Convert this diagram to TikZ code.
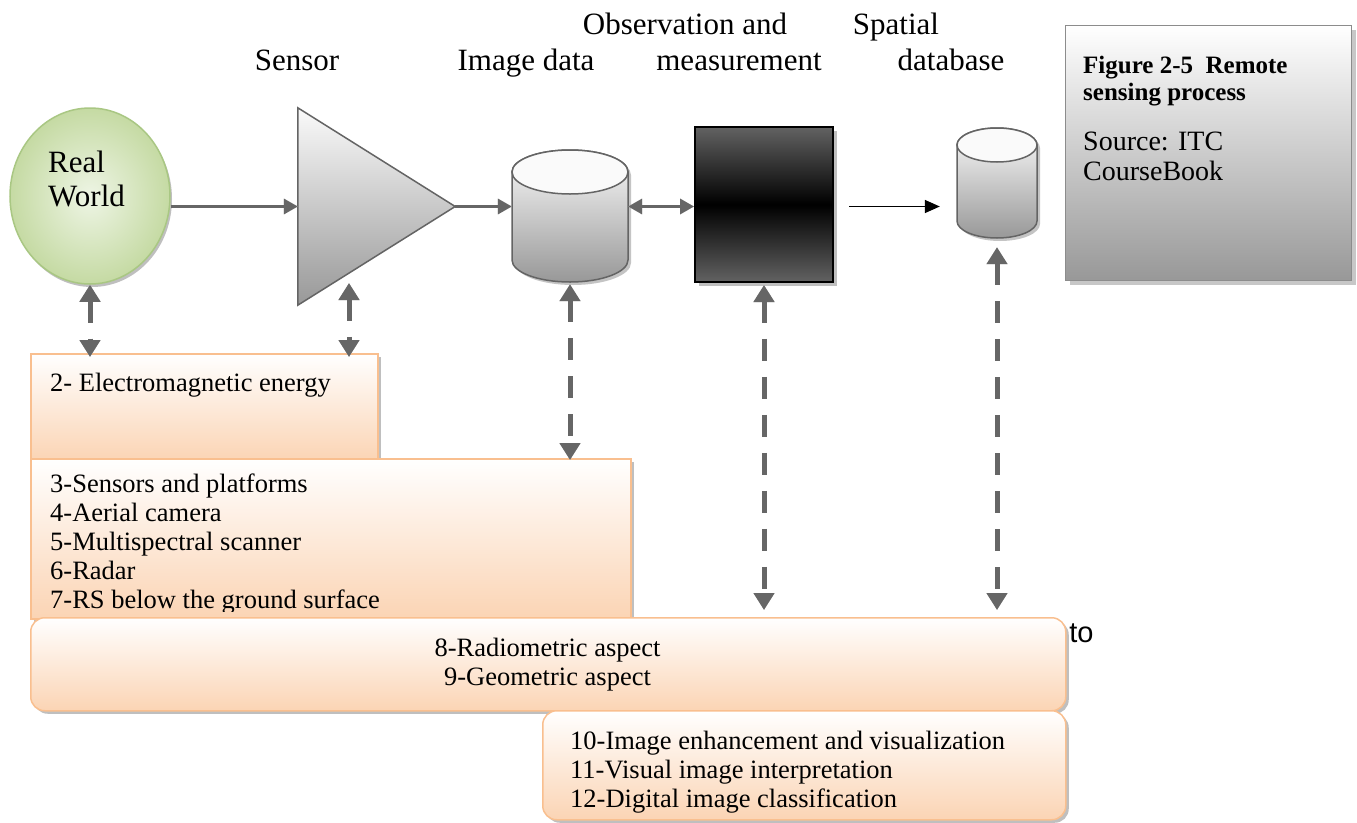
\documentclass[tikz,border=0pt]{standalone}
\usepackage{fontspec}
\setmainfont{Liberation Serif}
\newfontfamily\sansfam{Liberation Sans}
\usetikzlibrary{arrows.meta,shapes.geometric,shadows}

\definecolor{peach}{HTML}{FBD4B4}
\definecolor{peachline}{HTML}{F9BF8F}
\definecolor{arrgray}{HTML}{666666}
\definecolor{shgray}{HTML}{C4C4C4}
\definecolor{edgegray}{HTML}{646464}
\definecolor{cyltop}{HTML}{FAFAFA}
\definecolor{cylbot}{HTML}{989898}
\definecolor{greenin}{HTML}{EEF5E5}
\definecolor{greenout}{HTML}{C5DAA3}
\definecolor{greenline}{HTML}{A9C783}
\definecolor{obsgray}{HTML}{626262}
\definecolor{figbot}{HTML}{989898}
\definecolor{figline}{HTML}{8C8C8C}

\newcommand{\drawcyl}[5]{%
  \fill[shgray,xshift=3pt,yshift=-3pt] ({#1},{#2+#5}) -- ({#1},{#4-#5}) arc[start angle=180,end angle=0,x radius={(#3-#1)/2},y radius={#5}] -- ({#3},{#2+#5}) arc[start angle=0,end angle=-180,x radius={(#3-#1)/2},y radius={#5}] -- cycle;
  \shade[top color=cyltop,bottom color=cylbot,draw=edgegray,line width=1.5pt] ({#1},{#2+#5}) -- ({#1},{#4-#5}) arc[start angle=180,end angle=0,x radius={(#3-#1)/2},y radius={#5}] -- ({#3},{#2+#5}) arc[start angle=0,end angle=-180,x radius={(#3-#1)/2},y radius={#5}] -- cycle;
  \filldraw[fill=cyltop,draw=edgegray,line width=1.5pt] ({(#1+#3)/2},{#2+#5}) ellipse[x radius={(#3-#1)/2},y radius={#5}];
}

\begin{document}
\begin{tikzpicture}[x=1pt,y=-1pt,
  hdr/.style={font=\fontsize{31}{36}\selectfont, inner sep=0},
  btxt/.style={font=\fontsize{26.5}{29}\selectfont, inner sep=0},
  pbox/.style={draw=peachline, line width=1.5pt, top color=white, bottom color=peach, inner sep=0,
     drop shadow={shadow xshift=3pt,shadow yshift=-3pt,fill=black!25,opacity=1}},
  figbox/.style={draw=figline, line width=1pt, top color=white, bottom color=figbot, inner sep=0,
     drop shadow={shadow xshift=4pt,shadow yshift=-4pt,fill=black!22,opacity=1}},
  obsbox/.style={draw=black, line width=2pt, top color=obsgray, bottom color=obsgray, middle color=black, inner sep=0,
     drop shadow={shadow xshift=4pt,shadow yshift=-4pt,fill=black!25,opacity=1}},
  darr/.style={line width=5pt, arrgray, dash pattern=on 22pt off 16pt,
     {Triangle[width=20pt,length=17pt]}-{Triangle[width=20pt,length=17pt]}},
  dsh/.style={darr, shgray, xshift=2.5pt, yshift=-2.5pt},
  harr/.style={line width=3pt, arrgray, -{Triangle[width=15pt,length=14pt]}},
  hsh/.style={harr, shgray, xshift=1.5pt, yshift=-3pt},
  harr2/.style={line width=3pt, arrgray, {Triangle[width=15pt,length=14pt]}-{Triangle[width=15pt,length=14pt]}},
  hsh2/.style={harr2, shgray, xshift=1.5pt, yshift=-3pt}
]
\useasboundingbox (0,0) rectangle (1357,822);
\fill[white] (0,0) rectangle (1357,822);

% ---------- headers ----------
\node[hdr, anchor=base] (hsensor) at (297,70) {Sensor};
\node[hdr, anchor=base] (himage) at (526,70) {Image data};
\node[hdr, anchor=base] (hobs1) at (685,34) {Observation and};
\node[hdr, anchor=base] (hobs2) at (739,70) {measurement};
\node[hdr, anchor=base] (hsp1) at (896,34) {Spatial};
\node[hdr, anchor=base] (hsp2) at (951,70) {database};

% ---------- figure caption box ----------
\node[figbox, minimum width=286pt, minimum height=255pt, anchor=north west] (fig) at (1065,25) {};
\node[anchor=base west, inner sep=0, font=\bfseries\fontsize{25}{27}\selectfont] (fig1) at (1083,73) {Figure 2-5\ \ Remote};
\node[anchor=base west, inner sep=0, font=\bfseries\fontsize{25}{27}\selectfont] (fig2) at (1083,100) {sensing process};
\node[anchor=base west, inner sep=0, font=\fontsize{28}{30}\selectfont] (fig3) at (1083,150) {Source: ITC};
\node[anchor=base west, inner sep=0, font=\fontsize{28}{30}\selectfont] (fig4) at (1083,180) {CourseBook};

% ---------- text boxes ----------
\node[pbox, minimum width=347pt, minimum height=107pt, anchor=north west] (box2) at (30,353) {};
\node[btxt, anchor=base west] (t2) at (50,391) {2- Electromagnetic energy};

\node[pbox, minimum width=600pt, minimum height=160pt, anchor=north west] (box3) at (30,458) {};
\begin{scope}
  \clip (30,458) rectangle (630,611);
  \node[btxt, anchor=base west] (t3) at (50,492) {3-Sensors and platforms};
  \node[btxt, anchor=base west] (t4) at (50,521) {4-Aerial camera};
  \node[btxt, anchor=base west] (t5) at (50,550) {5-Multispectral scanner};
  \node[btxt, anchor=base west] (t6) at (50,579) {6-Radar};
  \node[btxt, anchor=base west] (t7) at (50,608) {7-RS below the ground surface};
\end{scope}

\node[anchor=base west, inner sep=0, font=\sansfam\fontsize{29}{32}\selectfont] (bgto) at (1045,642) {e to};

\node[pbox, rounded corners=14pt, minimum width=1035pt, minimum height=93pt, anchor=north west] (box89) at (30,617) {};
\node[btxt, anchor=base] (t8) at (547.5,656) {8-Radiometric aspect};
\node[btxt, anchor=base] (t9) at (547.5,685) {9-Geometric aspect};

\node[pbox, rounded corners=14pt, minimum width=523pt, minimum height=109pt, anchor=north west] (box1012) at (542,710) {};
\node[btxt, anchor=base west] (t10) at (570,749) {10-Image enhancement and visualization};
\node[btxt, anchor=base west] (t11) at (570,778) {11-Visual image interpretation};
\node[btxt, anchor=base west] (t12) at (570,807) {12-Digital image classification};

% ---------- process shapes ----------
\node[ellipse, minimum width=160pt, minimum height=176pt, inner sep=0,
      inner color=greenin, outer color=greenout, draw=greenline, line width=1.5pt,
      drop shadow={shadow xshift=2pt,shadow yshift=-3pt,fill=black!25,opacity=1}] (world) at (90,196) {};
\node[hdr, anchor=base west] (rw1) at (48,172) {Real};
\node[hdr, anchor=base west] (rw2) at (48,206) {World};

\node[minimum width=157pt, minimum height=197pt, inner sep=0] (sensor) at (376.5,206.5) {};
\fill[shgray, xshift=3pt, yshift=-3pt] (sensor.north west) -- (sensor.east) -- (sensor.south west) -- cycle;
\shade[top color=cyltop, bottom color=cylbot, draw=edgegray, line width=1.5pt]
  (sensor.north west) -- (sensor.east) -- (sensor.south west) -- cycle;
\coordinate (sensorlow) at (349,283);

\node[minimum width=116pt, minimum height=132pt, inner sep=0] (img) at (570,216) {};
\drawcyl{512}{150}{628}{282}{22}

\node[obsbox, minimum width=138pt, minimum height=155pt] (obs) at (764,204.5) {};

\node[minimum width=80pt, minimum height=110pt, inner sep=0] (db) at (997,183) {};
\drawcyl{957}{128}{1037}{238}{17}

% ---------- horizontal connectors ----------
\draw[hsh] (sensor.west -| world.east) -- (sensor.west);
\draw[harr] (sensor.west -| world.east) -- (sensor.west);
\draw[hsh] (sensor.east) -- (sensor.east -| img.west);
\draw[harr] (sensor.east) -- (sensor.east -| img.west);
\draw[hsh2] (sensor.east -| img.east) -- (sensor.east -| obs.west);
\draw[harr2] (sensor.east -| img.east) -- (sensor.east -| obs.west);
\draw[black, line width=1.5pt, -{Triangle[width=13pt,length=15pt]}, shorten <=15pt, shorten >=17pt]
  (sensor.east -| obs.east) -- (sensor.east -| db.west);

% ---------- dashed vertical connectors ----------
\draw[dsh, shorten >=-4pt] (world.south) -- (world.south |- box2.north);
\draw[darr, shorten >=-4pt] (world.south) -- (world.south |- box2.north);
\draw[dsh, shorten >=-4pt] (sensorlow) -- (sensorlow |- box2.north);
\draw[darr, shorten >=-4pt] (sensorlow) -- (sensorlow |- box2.north);
\draw[dsh, shorten <=2pt, shorten >=-2pt] (img.south) -- (img.south |- box3.north);
\draw[darr, shorten <=2pt, shorten >=-2pt] (img.south) -- (img.south |- box3.north);
\draw[dsh, shorten <=2pt, shorten >=7pt] (obs.south) -- (obs.south |- box89.north);
\draw[darr, shorten <=2pt, shorten >=7pt] (obs.south) -- (obs.south |- box89.north);
\draw[dsh, shorten <=9pt, shorten >=7pt] (db.south) -- (db.south |- box89.north);
\draw[darr, shorten <=9pt, shorten >=7pt] (db.south) -- (db.south |- box89.north);
\end{tikzpicture}
\end{document}
